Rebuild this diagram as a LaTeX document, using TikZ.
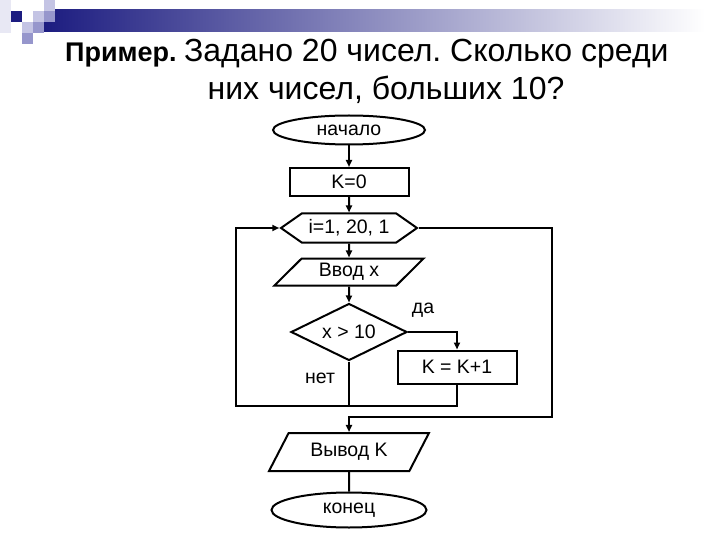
\documentclass[tikz,border=0pt]{standalone}
\usepackage{fontspec}
\setmainfont{Liberation Sans}
\usetikzlibrary{shapes.geometric,shapes.symbols,arrows.meta}
\definecolor{navy}{RGB}{28,28,128}
\definecolor{lilac}{RGB}{196,196,228}
\definecolor{lilacmid}{RGB}{150,150,204}
\definecolor{lilacpale}{RGB}{232,232,244}
\frenchspacing
\begin{document}
\begin{tikzpicture}[x=1pt,y=-1pt]
\tikzstyle{dep}= [-{Triangle[length=7pt,width=6pt]},line width=2pt]
\tikzstyle{ln}= [line width=2pt]
\tikzstyle{blk}= [draw,line width=2pt,inner sep=0pt,font=\fontsize{19.5}{19.5}\selectfont]
\tikzstyle{term}= [blk,ellipse]
\tikzstyle{act}= [blk,rectangle]
\tikzstyle{io}= [blk,trapezium,trapezium stretches=true]
\useasboundingbox (0,0) rectangle (720,540);
% corner squares and bar
\fill[lilacpale] (0,0) rectangle (11,33);
\shade[left color=navy,right color=white] (44,10) rectangle (705,32);
\fill[navy] (11,11) rectangle (22,22);
\fill[lilac] (44,0) rectangle (55,11);
\fill[lilac] (33,11) rectangle (44,22);
\fill[lilacmid] (44,11) rectangle (55,22);
\fill[lilac] (22,22) rectangle (33,33);
\fill[lilacmid] (33,22) rectangle (44,33);
\fill[lilacmid] (22,33) rectangle (33,44);
% title
\path
	(65,62) node[anchor=base west,inner sep=0pt,font=\fontsize{27}{27}\selectfont\bfseries] (ttl) {Пример.}
	(ttl.base east) node[anchor=base west,inner sep=0pt,xshift=7pt,font=\fontsize{32}{32}\selectfont] (ttla) {Задано 20 чисел. Сколько среди}
	(386,100) node[anchor=base,inner sep=0pt,font=\fontsize{32}{32}\selectfont] (ttlb) {них чисел, больших 10?}
;
% flowchart
\path
	(349,130) node[term,minimum width=152,minimum height=29] (beg) {начало}
	(349,182) node[act,minimum width=119,minimum height=28] (k0) {K=0}
	(349,228) node[blk,signal,signal to=west and east,signal pointer angle=70,minimum width=136,minimum height=29] (cyc) {i=1, 20, 1}
	(349,272) node[io,trapezium left angle=45,trapezium right angle=135,minimum width=150,minimum height=27] (inp) {Ввод x}
	(349,332) node[blk,diamond,aspect=2,minimum width=116,minimum height=57] (cond) {x > 10}
	(457,367) node[act,minimum width=119,minimum height=33] (kinc) {K = K+1}
	(349,452) node[io,trapezium left angle=54,trapezium right angle=126,minimum width=160,minimum height=38] (out) {Вывод K}
	(349,510) node[term,minimum width=155,minimum height=35] (fin) {конец}
	(423,310) node[font=\fontsize{19.5}{19.5}\selectfont] (yes) {да}
	(320,378) node[font=\fontsize{19.5}{19.5}\selectfont] (no) {нет}
;
\coordinate (jn) at (349,406);
\coordinate (lb) at (236,406);
\coordinate (rt) at (552,417);
\draw[dep] (beg) -- (k0);
\draw[dep] (k0) -- (cyc);
\draw[dep] (cyc) -- (inp);
\draw[dep] (inp) -- (cond);
\draw[dep] (cond.east) -| (kinc.north);
\draw[ln] (cond.south) -- (jn);
\draw[dep] (kinc.south) |- (lb) |- (cyc.west);
\draw[dep] (cyc.east) -| (rt) -| (out.north);
\draw[ln] (out) -- (fin);
\end{tikzpicture}
\end{document}
